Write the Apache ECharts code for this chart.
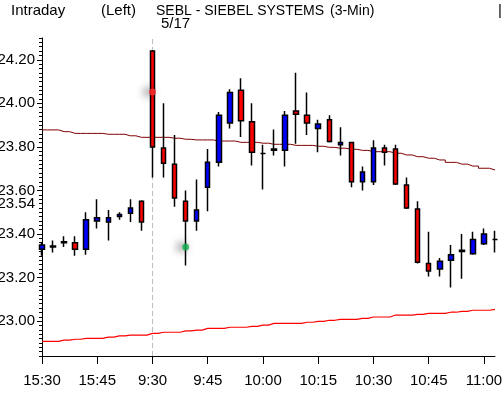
<!DOCTYPE html>
<html><head><meta charset="utf-8">
<script src="https://cdn.jsdelivr.net/npm/echarts@6/dist/echarts.min.js"></script>
<style>html,body{margin:0;padding:0;background:#fff}#c{width:502px;height:393px}</style>
</head><body><div id="c"></div>
<script>
var times = ['15:30','15:33','15:36','15:39','15:42','15:45','15:48','15:51','15:54','15:57',
 '9:30','9:33','9:36','9:39','9:42','9:45','9:48','9:51','9:54','9:57',
 '10:00','10:03','10:06','10:09','10:12','10:15','10:18','10:21','10:24','10:27',
 '10:30','10:33','10:36','10:39','10:42','10:45','10:48','10:51','10:54','10:57',
 '11:00','11:03'];
var opens  = [23.33,23.34,23.36,23.36,23.33,23.46,23.455,23.48,23.495,23.55,
 24.24,23.795,23.72,23.55,23.46,23.615,23.73,23.91,24.06,23.915,
 23.77,23.785,23.785,23.965,23.945,23.885,23.925,23.81,23.82,23.64,
 23.64,23.795,23.79,23.625,23.515,23.265,23.24,23.28,23.32,23.31,
 23.355,23.375];
var closes = [23.35,23.345,23.365,23.33,23.465,23.475,23.475,23.49,23.52,23.455,
 23.80,23.725,23.565,23.46,23.51,23.73,23.945,24.05,23.92,23.775,
 23.77,23.79,23.945,23.95,23.91,23.905,23.825,23.82,23.64,23.685,
 23.795,23.775,23.63,23.52,23.27,23.23,23.275,23.305,23.325,23.375,
 23.40,23.375];
var lows   = [23.30,23.315,23.34,23.30,23.305,23.425,23.37,23.465,23.455,23.415,
 23.66,23.66,23.525,23.255,23.415,23.505,23.71,23.885,23.845,23.715,
 23.605,23.76,23.71,23.815,23.855,23.775,23.82,23.76,23.615,23.60,
 23.625,23.715,23.625,23.515,23.265,23.205,23.205,23.155,23.195,23.305,
 23.35,23.315];
var highs  = [23.36,23.37,23.39,23.39,23.50,23.56,23.51,23.50,23.56,23.555,
 24.245,24.00,23.855,23.60,23.65,23.79,23.96,24.065,24.115,24.00,
 23.81,23.88,23.965,24.14,24.05,23.925,23.945,23.89,23.82,23.71,
 23.83,23.81,23.81,23.66,23.55,23.41,23.29,23.35,23.40,23.41,
 23.425,23.415];
var upperLine = [23.878,23.878,23.870,23.862,23.862,23.862,23.858,23.858,23.851,23.844,
 23.844,23.844,23.840,23.835,23.832,23.832,23.827,23.827,23.821,23.821,
 23.817,23.812,23.812,23.807,23.807,23.803,23.798,23.794,23.789,23.784,
 23.778,23.778,23.771,23.763,23.755,23.748,23.740,23.729,23.721,23.712,
 23.702,23.694];
var lowerLine = [22.907,22.907,22.913,22.917,22.921,22.921,22.927,22.932,22.936,22.936,
 22.944,22.949,22.949,22.955,22.959,22.967,22.967,22.972,22.972,22.976,
 22.982,22.990,22.990,22.990,22.995,22.999,23.004,23.008,23.008,23.013,
 23.019,23.019,23.028,23.028,23.031,23.036,23.036,23.041,23.045,23.050,
 23.050,23.054];
var yTickLabels = [23.00,23.20,23.40,23.60,23.80,24.00,24.20,23.54];
var majorTicks = [23.00,23.20,23.40,23.60,23.80,24.00,24.20];
var highMarker = ['9:30', 24.052];
var lowMarker = ['9:39', 23.34];
var sessionBreak = '9:30';

var FONT = '"Liberation Sans",Arial,sans-serif';
var FS = 15;
var candles = times.map(function(t,i){ return [opens[i], closes[i], lows[i], highs[i]]; });

var chart = echarts.init(document.getElementById('c'), null, {renderer:'canvas'});
chart.setOption({
  animation:false,
  backgroundColor:'#fff',
  textStyle:{fontFamily:FONT},
  grid:{left:42, top:38, right:7, bottom:37, containLabel:false, outerBoundsMode:'none'},
  graphic:[
    {type:'text', left:11, top:3, style:{text:'Intraday', font:FS+'px '+FONT, fill:'#000'}},
    {type:'text', left:101, top:3, style:{text:'(Left)', font:FS+'px '+FONT, fill:'#000'}},
    {type:'text', left:156, top:4, style:{text:'SEBL - SIEBEL SYSTEMS', font:'14px '+FONT, fill:'#000'}},
    {type:'text', left:330, top:4, style:{text:'(3-Min)', font:'14px '+FONT, fill:'#000'}},
    {type:'text', left:161, top:16, style:{text:'5/17', font:FS+'px '+FONT, fill:'#000'}},
    {type:'text', left:498, top:3, style:{text:'|', font:FS+'px '+FONT, fill:'#000'}}
  ],
  xAxis:{
    type:'category', data:times, boundaryGap:false,
    axisLine:{show:true, lineStyle:{color:'#000', width:1}},
    axisTick:{show:true, interval:4, length:8, lineStyle:{color:'#000'}},
    axisLabel:{interval:4, color:'#000', fontSize:FS, fontFamily:FONT, margin:17},
    splitLine:{show:false}
  },
  yAxis:[
    {type:'value', min:22.84, max:24.30, interval:0.02, position:'left',
     axisLine:{show:true, lineStyle:{color:'#000', width:1}},
     axisTick:{show:true, length:3, lineStyle:{color:'#000'}},
     axisLabel:{show:false}, splitLine:{show:false}},
    {type:'value', min:22.84, max:24.30, position:'left',
     axisLine:{show:false},
     axisTick:{show:true, length:5, customValues:majorTicks, lineStyle:{color:'#000'}},
     axisLabel:{show:true, customValues:yTickLabels, color:'#000', fontSize:FS, fontFamily:FONT, margin:7,
       formatter:function(v){ return Math.abs(v-23.54)<1e-6 ? '{w|'+v.toFixed(2)+'}' : v.toFixed(2); },
       rich:{w:{backgroundColor:'#fff', fontSize:FS, fontFamily:FONT, color:'#000', padding:[0,0,0,0]}}},
     splitLine:{show:false}}
  ],
  series:[
    {type:'line', name:'upper', data:upperLine, step:'middle', yAxisIndex:0, symbol:'none',
     lineStyle:{color:'#800000', width:1}, z:1,
     markLine:{silent:true, z:0, symbol:'none', label:{show:false},
       lineStyle:{color:'#bdbdbd', type:[5,3], width:1},
       data:[{xAxis:sessionBreak}]}},
    {type:'line', name:'lower', data:lowerLine, step:'middle', yAxisIndex:0, symbol:'none',
     lineStyle:{color:'#ff0000', width:1.2}, z:1},
    {type:'candlestick', data:candles, yAxisIndex:0, barWidth:5,
     itemStyle:{color:'#0000ff', color0:'#ff0000', borderColor:'#000', borderColor0:'#000', borderWidth:1.5},
     z:3},
    {type:'scatter', yAxisIndex:0, data:[highMarker], symbolSize:7,
     itemStyle:{color:'#ff3030', shadowColor:'rgba(0,0,0,0.9)', shadowBlur:8, shadowOffsetX:-4}, z:5},
    {type:'scatter', yAxisIndex:0, data:[lowMarker], symbolSize:7,
     itemStyle:{color:'#10b050', shadowColor:'rgba(0,0,0,0.9)', shadowBlur:8, shadowOffsetX:-4}, z:5}
  ]
});
</script></body></html>
